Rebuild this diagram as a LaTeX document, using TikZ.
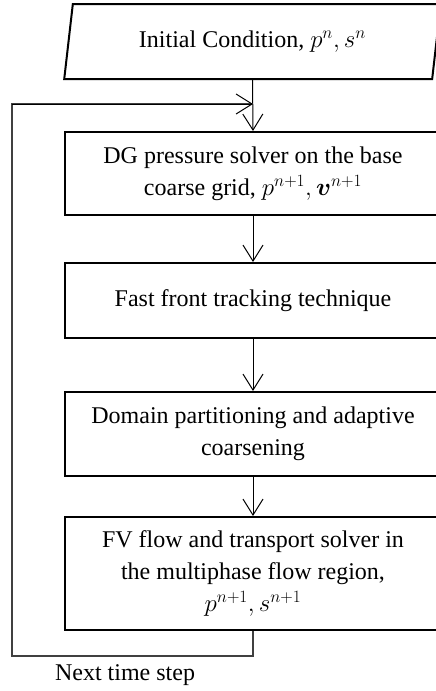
\documentclass[tikz,border=0pt]{standalone}
\usepackage{amsmath}
\usepackage{fontspec}
\setmainfont{Liberation Serif}
\DeclareMathSizes{24}{24}{18}{14}
\usetikzlibrary{arrows.meta,shapes.geometric}
\begin{document}
\begin{tikzpicture}[x=1pt,y=-1pt,
  every node/.style={font=\fontsize{24}{32}\selectfont, align=center, inner sep=0pt},
  stepbox/.style={draw, line width=2pt, minimum width=376pt},
  inputbox/.style={draw, line width=2pt, trapezium, trapezium left angle=75.8, trapezium right angle=104.2, trapezium stretches=true, minimum width=377pt, minimum height=75pt},
  arr/.style={line width=1pt, -{Straight Barb[length=16pt,width=20pt,line width=1pt]}},
  loopline/.style={line width=1.2pt, draw=black!75}
]
\useasboundingbox (0,0) rectangle (436,691);
\node[inputbox] (init) at (252.5,41.5) {Initial Condition, $p^{n}, s^{n}$};
\node[stepbox, minimum height=83pt] (dg) at (253,173.5) {DG pressure solver on the base\\coarse grid, $p^{n+1}, \boldsymbol{v}^{n+1}$};
\node[stepbox, minimum height=75pt] (ft) at (253,300.5) {Fast front tracking technique};
\node[stepbox, minimum height=84pt] (dp) at (253,434) {Domain partitioning and adaptive\\coarsening};
\node[stepbox, minimum height=113pt] (fv) at (253,573.5) {FV flow and transport solver in\\the multiphase flow region,\\$p^{n+1}, s^{n+1}$};
\node (next) at (125,675) {Next time step};
\coordinate (lb) at (12,656);
\coordinate (lt) at (12,104);
\coordinate (j) at (253,104);
\draw[arr] (init.south) -- (dg.north);
\draw[arr] (dg.south) -- (ft.north);
\draw[arr] (ft.south) -- (dp.north);
\draw[arr] (dp.south) -- (fv.north);
\draw[loopline] (fv.south) |- (lb) -- (lt) -- (j);
\draw[arr] (lt) -- (j);
\end{tikzpicture}
\end{document}
